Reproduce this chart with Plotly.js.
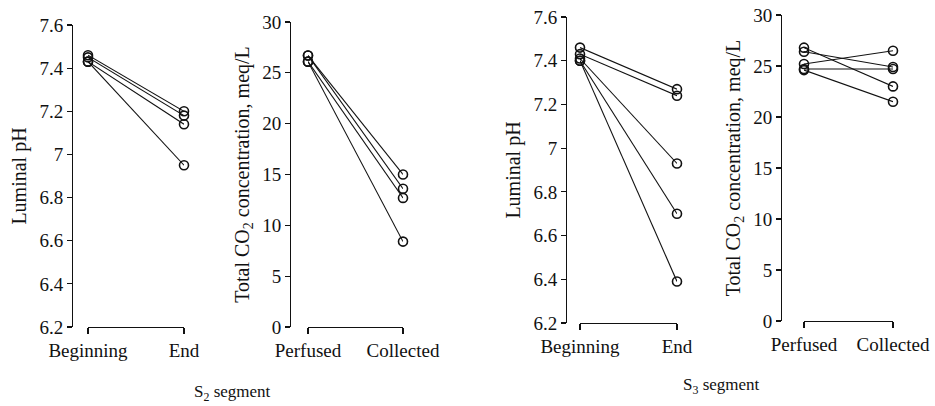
<!DOCTYPE html>
<html>
<head>
<meta charset="utf-8">
<script src="https://cdn.plot.ly/plotly-3.0.1.min.js"></script>
<style>
html,body{margin:0;padding:0;background:#fff}
#chart{width:935px;height:406px}
#chart .xtick text, #chart .ytick text, #chart text { font-family: 'Liberation Serif', 'DejaVu Serif', serif !important; }
</style>
</head>
<body>
<div id="chart"></div>
<script>
// ---- data ----
var phStages = ['Beginning', 'End'];
var co2Stages = ['Perfused', 'Collected'];

// S2 segment
var s2pHBeginning = [7.46, 7.45, 7.43, 7.43];
var s2pHEnd       = [7.20, 7.18, 7.14, 6.95];
var s2CO2Perfused  = [26.7, 26.7, 26.1, 26.1];
var s2CO2Collected = [15.0, 13.6, 12.7, 8.4];

// S3 segment
var s3pHBeginning = [7.46, 7.43, 7.41, 7.40, 7.40];
var s3pHEnd       = [7.27, 7.24, 6.93, 6.70, 6.39];
var s3CO2Perfused  = [26.8, 26.4, 25.2, 24.7, 24.6];
var s3CO2Collected = [23.0, 24.9, 26.5, 24.7, 21.5];

var segmentLabels = ['S<sub>2</sub> segment', 'S<sub>3</sub> segment'];
var phTitle = 'Luminal pH';
var co2Title = 'Total CO<sub>2</sub> concentration, meq/L';

// ---- build ----
var W = 935, H = 406;
var FONT = 'Liberation Serif';
function px(x) { return x / W; }
function py(y) { return 1 - y / H; }

var traces = [];
function addPanel(idx, startVals, endVals) {
  for (var i = 0; i < startVals.length; i++) {
    traces.push({
      x: [0, 1], y: [startVals[i], endVals[i]],
      xaxis: 'x' + (idx === 1 ? '' : idx), yaxis: 'y' + (idx === 1 ? '' : idx),
      mode: 'lines+markers', cliponaxis: false,
      line: {color: '#111', width: 1.1},
      marker: {symbol: 'circle-open', size: 9, color: '#111', line: {width: 1.6, color: '#111'}},
      hoverinfo: 'skip'
    });
  }
}
addPanel(1, s2pHBeginning, s2pHEnd);
addPanel(2, s2CO2Perfused, s2CO2Collected);
addPanel(3, s3pHBeginning, s3pHEnd);
addPanel(4, s3CO2Perfused, s3CO2Collected);

// panel geometry in pixels: [yAxisX, yTop, yBottom, xLeft, xRight]
var geo = [
  [72, 25, 327, 88, 184],
  [290, 22, 327, 308, 403],
  [566, 17, 323, 580, 677],
  [781, 15, 321, 804, 893]
];
var ranges = [[6.2, 7.6], [0, 30], [6.2, 7.6], [0, 30]];
var dticks = [0.2, 5, 0.2, 5];
var titles = [phTitle, co2Title, phTitle, co2Title];
var stages = [phStages, co2Stages, phStages, co2Stages];

var layout = {
  width: W, height: H,
  margin: {l: 0, r: 0, t: 0, b: 0},
  paper_bgcolor: '#fff', plot_bgcolor: 'rgba(0,0,0,0)',
  showlegend: false,
  font: {family: FONT, color: '#111', size: 19},
  annotations: []
};

for (var k = 0; k < 4; k++) {
  var g = geo[k];
  var sfx = k === 0 ? '' : String(k + 1);
  layout['xaxis' + sfx] = {
    domain: [px(g[3]), px(g[4])],
    anchor: 'y' + sfx,
    range: [0, 1],
    tickvals: [0, 1], ticktext: stages[k],
    showline: true, linecolor: '#111', linewidth: 1.2,
    ticks: 'outside', ticklen: 6, tickcolor: '#111', tickwidth: 1.2,
    showgrid: false, zeroline: false, fixedrange: true,
    tickfont: {family: FONT, size: 19, color: '#111'}
  };
  layout['yaxis' + sfx] = {
    domain: [py(g[2]), py(g[1])],
    anchor: 'free', position: px(g[0]),
    range: ranges[k], dtick: dticks[k], tick0: ranges[k][0],
    showline: true, linecolor: '#111', linewidth: 1.2,
    ticks: 'outside', ticklen: 5, tickcolor: '#111', tickwidth: 1.2,
    showgrid: false, zeroline: false, fixedrange: true,
    tickfont: {family: FONT, size: 19, color: '#111'},
    title: {text: titles[k], font: {family: FONT, size: 20, color: '#111'}, standoff: 6}
  };
}

layout.annotations.push({
  text: segmentLabels[0], xref: 'paper', yref: 'paper',
  x: px(232), y: py(393), xanchor: 'center', yanchor: 'middle', showarrow: false,
  font: {family: FONT, size: 17, color: '#111'}
});
layout.annotations.push({
  text: segmentLabels[1], xref: 'paper', yref: 'paper',
  x: px(721), y: py(386), xanchor: 'center', yanchor: 'middle', showarrow: false,
  font: {family: FONT, size: 17, color: '#111'}
});

Plotly.newPlot('chart', traces, layout, {staticPlot: true, displayModeBar: false});
</script>
</body>
</html>
